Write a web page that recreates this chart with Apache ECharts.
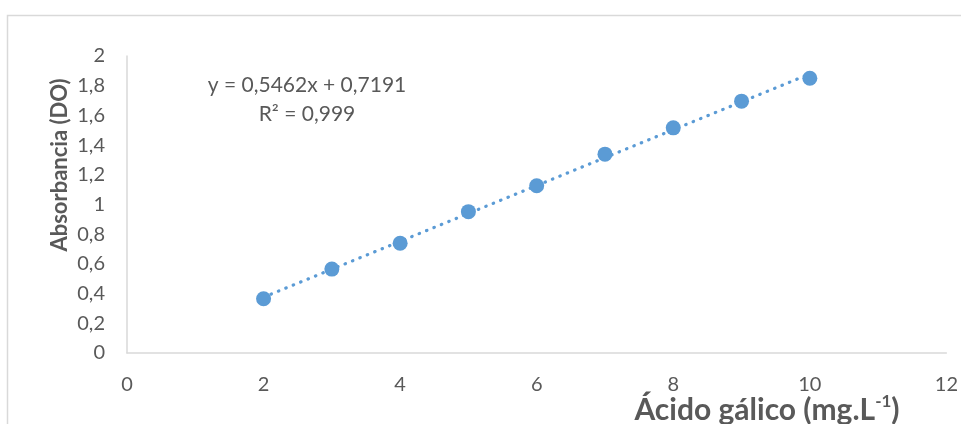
<!DOCTYPE html>
<html>
<head>
<meta charset="utf-8">
<script src="https://cdn.jsdelivr.net/npm/echarts@6/dist/echarts.min.js"></script>
<style>
html,body{margin:0;padding:0;background:#fff;}
#c{width:961px;height:424px;}
</style>
</head>
<body>
<div id="c"></div>
<script>
// Data
const concentrations = [2, 3, 4, 5, 6, 7, 8, 9, 10];
const absorbance = [0.365, 0.565, 0.739, 0.952, 1.126, 1.339, 1.516, 1.696, 1.850];
const xTicks = [0, 2, 4, 6, 8, 10, 12];
const yTicks = [0, 0.2, 0.4, 0.6, 0.8, 1, 1.2, 1.4, 1.6, 1.8, 2];
const equationText = 'y = 0,5462x + 0,7191';
const r2Text = 'R² = 0,999';
const yTitle = 'Absorbancia (DO)';
const xTitleMain = 'Ácido gálico (mg.L';
const xTitleSup = '-1';
const xTitleEnd = ')';

// Linear least-squares trendline from the points
const n = concentrations.length;
const mx = concentrations.reduce((a, b) => a + b, 0) / n;
const my = absorbance.reduce((a, b) => a + b, 0) / n;
let sxy = 0, sxx = 0;
for (let i = 0; i < n; i++) {
  sxy += (concentrations[i] - mx) * (absorbance[i] - my);
  sxx += (concentrations[i] - mx) ** 2;
}
const slope = sxy / sxx;
const intercept = my - slope * mx;
const xMin = Math.min(...concentrations), xMax = Math.max(...concentrations);
const trend = [[xMin, intercept + slope * xMin], [xMax, intercept + slope * xMax]];

const FONT = 'Lato, "Open Sans", sans-serif';
const TXT = '#595959';
const BLUE = '#5b9bd5';

const chart = echarts.init(document.getElementById('c'), null, {renderer: 'canvas'});
chart.setOption({
  animation: false,
  backgroundColor: '#fff',
  grid: {left: 127, right: 14, top: 56, bottom: 71, containLabel: false},
  xAxis: {
    type: 'value',
    min: xTicks[0], max: xTicks[xTicks.length - 1], interval: 2,
    axisLine: {show: true, lineStyle: {color: '#d9d9d9', width: 1.5}},
    axisTick: {show: false},
    splitLine: {show: false},
    axisLabel: {color: TXT, fontFamily: FONT, fontSize: 20, margin: 22,
      formatter: v => String(v)}
  },
  yAxis: {
    type: 'value',
    min: yTicks[0], max: yTicks[yTicks.length - 1], interval: 0.2,
    axisLine: {show: true, lineStyle: {color: '#d9d9d9', width: 1.5}},
    axisTick: {show: false},
    splitLine: {show: false},
    axisLabel: {color: TXT, fontFamily: FONT, fontSize: 20, margin: 22,
      formatter: v => String(+v.toFixed(1)).replace('.', ',')}
  },
  series: [
    {
      type: 'line',
      data: trend,
      symbol: 'none',
      z: 2,
      lineStyle: {color: BLUE, width: 3.2, type: [0.5, 7.5], cap: 'round'}
    },
    {
      type: 'scatter',
      data: concentrations.map((x, i) => [x, absorbance[i]]),
      symbol: 'circle',
      symbolSize: 15,
      z: 3,
      itemStyle: {color: BLUE, opacity: 1}
    }
  ],
  graphic: [
    {
      type: 'rect', silent: true, z: -1,
      shape: {x: 7.5, y: 15.5, width: 1000, height: 1000},
      style: {fill: 'none', stroke: '#d9d9d9', lineWidth: 1.5}
    },
    {
      type: 'text', x: 307, y: 85,
      style: {text: equationText, fill: TXT, font: '21px ' + FONT, textAlign: 'center', textVerticalAlign: 'middle'}
    },
    {
      type: 'text', x: 307, y: 114,
      style: {text: r2Text, fill: TXT, font: '21px ' + FONT, textAlign: 'center', textVerticalAlign: 'middle'}
    },
    {
      type: 'text', x: 60, y: 165, rotation: Math.PI / 2,
      style: {text: yTitle, fill: TXT, font: 'bold 22px ' + FONT, textAlign: 'center', textVerticalAlign: 'middle'}
    },
    {
      type: 'text', x: 767, y: 409,
      style: {
        text: '{m|' + xTitleMain + '}{s|' + xTitleSup + '}{m|' + xTitleEnd + '}',
        textAlign: 'center', textVerticalAlign: 'middle',
        rich: {
          m: {fill: TXT, fontFamily: FONT, fontWeight: 'bold', fontSize: 30, lineHeight: 32, verticalAlign: 'bottom'},
          s: {fill: TXT, fontFamily: FONT, fontWeight: 'bold', fontSize: 17, lineHeight: 17, verticalAlign: 'top'}
        }
      }
    }
  ]
});
</script>
</body>
</html>
